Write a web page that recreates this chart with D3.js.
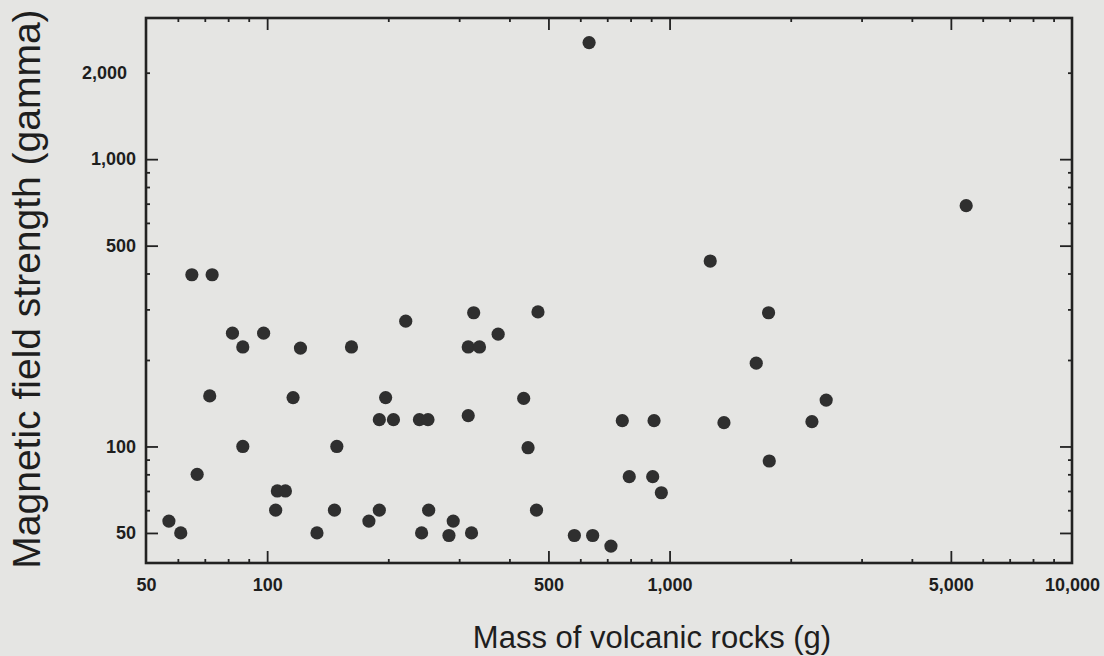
<!DOCTYPE html>
<html lang="en">
<head>
    <meta charset="UTF-8">
    <title>Magnetic field strength vs mass of volcanic rocks</title>
    <script src="https://d3js.org/d3.v7.min.js"></script>
    <style>
        html, body { margin: 0; padding: 0; background: #e5e5e3; }
        svg text { font-family: "Liberation Sans", Arial, Helvetica, sans-serif; fill: #1e1e1e; }
    </style>
</head>
<body>
    <div id="chart"></div>

    <script>
        // Data (log-log scatter)
        const mass = [57, 61, 65, 73, 82, 87, 98, 72, 87, 67,
            121, 116, 106, 111, 105, 133, 147, 149, 162, 179,
            190, 190, 197, 206, 221, 242, 239, 251, 252, 283,
            290, 316, 326, 316, 337, 322, 375, 471, 434, 445,
            467, 580, 644, 715, 631, 763, 915, 794, 908, 954,
            1262, 1762, 1642, 1365, 1769, 2258, 2450, 5458];
        const field = [55, 50, 396, 396, 248, 222, 248, 150, 100, 80,
            220, 148, 70, 70, 60, 50, 60, 100, 222, 55,
            60, 124, 148, 124, 273, 50, 124, 124, 60, 49,
            55, 128, 292, 222, 222, 50, 246, 294, 147, 99,
            60, 49, 49, 45, 2545, 123, 123, 78.5, 78.5, 69,
            442, 292, 195, 121, 89, 122, 145, 689];

        // Tick values and labels
        const xMajor = [100, 500, 1000, 5000];
        const xMinor = [60, 70, 80, 90, 200, 300, 400, 600, 700, 800, 900, 2000, 3000, 4000, 6000, 7000, 8000, 9000];
        const xLabels = [50, 100, 500, 1000, 5000, 10000];
        const yMajor = [50, 100, 500, 1000];
        const yMinor = [60, 70, 80, 90, 200, 300, 400, 600, 700, 800, 900, 2000];
        const yLabels = [50, 100, 500, 1000, 2000];

        const width = 1104, height = 656;
        const plot = { left: 146, right: 1072, top: 18, bottom: 563 };

        const svg = d3.select("#chart").append("svg")
            .attr("width", width)
            .attr("height", height);

        // Escalas
        const x = d3.scaleLog().domain([50, 10000]).range([plot.left, plot.right]);
        const y = d3.scaleLog().domain([39.3, 3100]).range([plot.bottom, plot.top]);
        const fmt = d3.format(",");

        // ticks pointing inward on all four sides
        function ticks(axis, values, size, transform) {
            const g = svg.append("g")
                .attr("transform", transform)
                .call(axis.tickValues(values).tickSize(size).tickFormat(""));
            g.select(".domain").remove();
            g.selectAll("line").attr("stroke", "#222").attr("stroke-width", 1.8);
        }
        ticks(d3.axisTop(x), xMajor, 12, `translate(0,${plot.bottom})`);
        ticks(d3.axisTop(x), xMinor, 4, `translate(0,${plot.bottom})`);
        ticks(d3.axisBottom(x), xMajor, 12, `translate(0,${plot.top})`);
        ticks(d3.axisBottom(x), xMinor, 4, `translate(0,${plot.top})`);
        ticks(d3.axisRight(y), yMajor, 12, `translate(${plot.left},0)`);
        ticks(d3.axisRight(y), yMinor, 4, `translate(${plot.left},0)`);
        ticks(d3.axisLeft(y), yMajor, 12, `translate(${plot.right},0)`);
        ticks(d3.axisLeft(y), yMinor, 4, `translate(${plot.right},0)`);

        // frame
        svg.append("rect")
            .attr("x", plot.left).attr("y", plot.top)
            .attr("width", plot.right - plot.left).attr("height", plot.bottom - plot.top)
            .attr("fill", "none").attr("stroke", "#222").attr("stroke-width", 2.6);

        // tick labels
        const xl = svg.append("g")
            .attr("transform", `translate(0,${plot.bottom})`)
            .call(d3.axisBottom(x).tickValues(xLabels).tickSize(0).tickPadding(15).tickFormat(fmt));
        xl.select(".domain").remove();
        xl.selectAll("text").style("font-size", "18px").style("font-weight", "bold").attr("fill", "#1e1e1e");

        const yl = svg.append("g")
            .attr("transform", `translate(${plot.left},0)`)
            .call(d3.axisLeft(y).tickValues(yLabels).tickSize(0).tickPadding(10).tickFormat(fmt));
        yl.select(".domain").remove();
        yl.selectAll("text").style("font-size", "18px").style("font-weight", "bold").attr("fill", "#1e1e1e")
            .attr("dx", d => d === 2000 ? -9 : 0);

        // axis titles
        svg.append("text")
            .attr("x", 652).attr("y", 648)
            .attr("text-anchor", "middle")
            .style("font-size", "31px")
            .text("Mass of volcanic rocks (g)");

        svg.append("text")
            .attr("transform", "translate(40,289) rotate(-90)")
            .attr("text-anchor", "middle")
            .style("font-size", "39px")
            .text("Magnetic field strength (gamma)");

        // points
        const data = mass.map((m, i) => ({ x: m, y: field[i] }));
        svg.selectAll(".dot")
            .data(data)
            .enter().append("circle")
            .attr("class", "dot")
            .attr("cx", d => x(d.x))
            .attr("cy", d => y(d.y))
            .attr("r", 6.6)
            .style("fill", "#2f2f2f");
    </script>
</body>
</html>
